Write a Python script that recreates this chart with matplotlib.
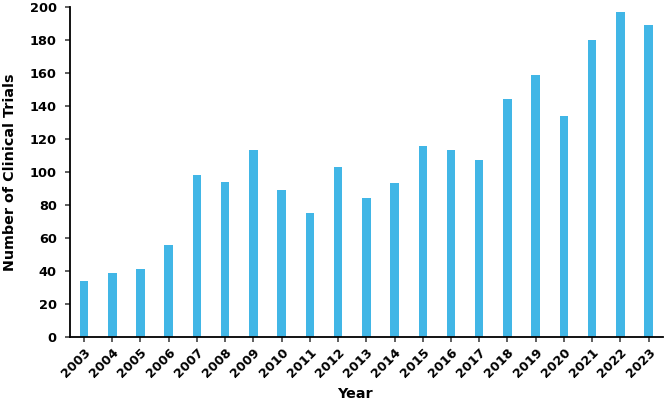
import matplotlib
matplotlib.use("Agg")
import matplotlib.pyplot as plt

years = [str(y) for y in range(2003, 2024)]
trials = [34, 39, 41, 56, 98, 94, 113, 89, 75, 103, 84, 93, 116, 113, 107, 144, 159, 134, 180, 197, 189]
yticks = [0, 20, 40, 60, 80, 100, 120, 140, 160, 180, 200]

plt.rcParams['font.family'] = ['DejaVu Sans']
plt.rcParams['font.weight'] = 'bold'

fig = plt.figure(figsize=(6.66, 4.05), dpi=100)
ax = fig.add_axes([0.105, 0.168, 0.89, 0.815])
x = list(range(len(years)))
ax.bar(x, trials, width=0.3, color='#41b6e6')
ax.set_xlim(-0.5, 20.5)
ax.set_ylim(0, 200)
ax.set_yticks(yticks)
ax.set_xticks(x)
ax.set_xticklabels(years, rotation=45, ha='right', rotation_mode='anchor', fontsize=9.2, fontweight='bold')
ax.set_yticklabels([str(v) for v in yticks], fontsize=9.3, fontweight='bold')
for s in ['top', 'right']:
    ax.spines[s].set_visible(False)
for s in ['left', 'bottom']:
    ax.spines[s].set_linewidth(1.3)
ax.tick_params(axis='both', direction='out', length=3.5, width=1.1, color='#333333')
ax.tick_params(axis='y', pad=6)
ax.tick_params(axis='x', pad=3)
ax.set_xlabel('Year', fontsize=10.3, fontweight='bold', labelpad=5, x=0.48)
ax.set_ylabel('Number of Clinical Trials', fontsize=10.3, fontweight='bold', labelpad=9)
fig.savefig('out.png', dpi=100)
